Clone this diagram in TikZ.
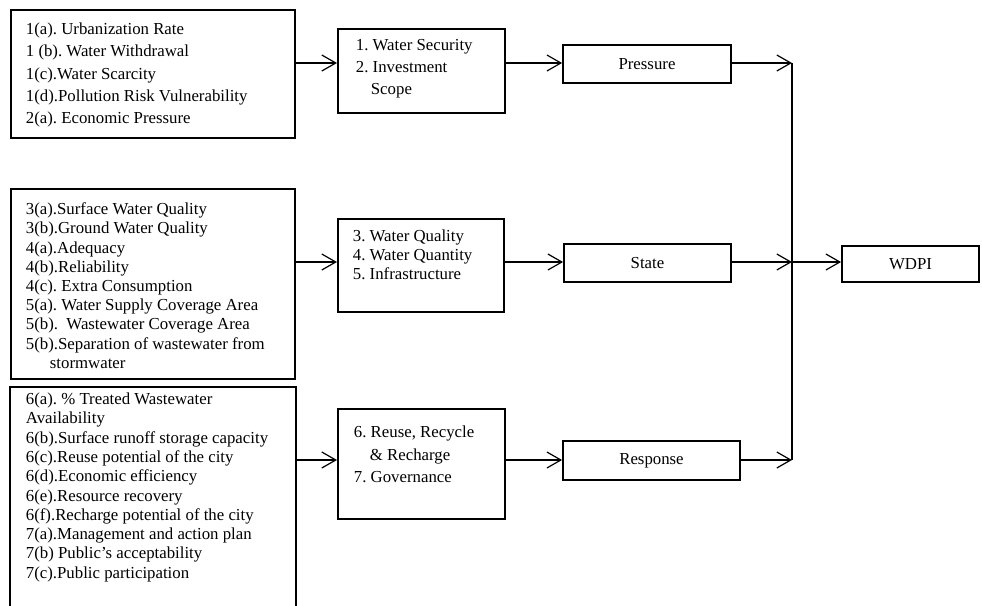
\documentclass[tikz,border=0pt]{standalone}
\usepackage{fontspec}
\usepackage{tikz}
\usetikzlibrary{arrows.meta}
\setmainfont{Liberation Serif}
\newcommand{\boxlist}[3]{\parbox[c][#2][t]{#1}{\raggedright\frenchspacing #3}}

\begin{document}
\begin{tikzpicture}[x=1pt, y=-1pt,
    box/.style={draw, line width=1.8pt, inner sep=0pt},
    listbox/.style={box, anchor=north west, inner xsep=15pt},
    stagebox/.style={box, font=\fontsize{16.8}{19}\selectfont},
    link/.style={line width=1.2pt},
    arr/.style={link, -{Straight Barb[length=14pt, width=16pt]}}]
      \useasboundingbox (0,0) rectangle (982,605);
      \node[listbox, inner ysep=13pt, font=\fontsize{16.8}{22.3}\selectfont] (A1) at (10,9) {\boxlist{254pt}{102pt}{%
        1(a). Urbanization Rate\\
        1 (b). Water Withdrawal\\
        1(c).Water Scarcity\\
        1(d).Pollution Risk Vulnerability\\
        2(a). Economic Pressure}};
      \node[listbox, inner ysep=14pt, font=\fontsize{16.8}{19.2}\selectfont] (A2) at (10,188) {\boxlist{254pt}{162pt}{%
        3(a).Surface Water Quality\\
        3(b).Ground Water Quality\\
        4(a).Adequacy\\
        4(b).Reliability\\
        4(c). Extra Consumption\\
        5(a). Water Supply Coverage Area\\
        5(b).~ Wastewater Coverage Area\\
        5(b).Separation of wastewater from\\
        \hspace*{24pt}stormwater}};
      \node[listbox, draw=none, inner ysep=5pt, font=\fontsize{16.8}{19.3}\selectfont] (A3) at (10,387) {\boxlist{254pt}{208pt}{%
        6(a). \% Treated Wastewater\\
        Availability\\
        6(b).Surface runoff storage capacity\\
        6(c).Reuse potential of the city\\
        6(d).Economic efficiency\\
        6(e).Resource recovery\\
        6(f).Recharge potential of the city\\
        7(a).Management and action plan\\
        7(b) Public’s acceptability\\
        7(c).Public participation}};
      \draw[line width=1.8pt] (A3.south west) -- (A3.north west) -- (A3.north east) -- (A3.south east);
      \node[listbox, inner xsep=18pt, inner ysep=10pt, font=\fontsize{16.8}{22}\selectfont] (B1) at (337,28) {\boxlist{131pt}{64pt}{%
        1. Water Security\\
        2. Investment\\
        \hspace*{15pt}Scope}};
      \node[listbox, inner ysep=11pt, font=\fontsize{16.8}{19}\selectfont] (B2) at (337,218) {\boxlist{136pt}{71pt}{%
        3. Water Quality\\
        4. Water Quantity\\
        5. Infrastructure}};
      \node[listbox, inner xsep=16pt, inner ysep=17pt, font=\fontsize{16.8}{22.5}\selectfont] (B3) at (337,408) {\boxlist{135pt}{76pt}{%
        6. Reuse, Recycle\\
        \hspace*{16pt}\& Recharge\\
        7. Governance}};
      \node[stagebox, minimum width=168pt, minimum height=38pt] (P) at (647,64) {Pressure};
      \node[stagebox, minimum width=167pt, minimum height=38pt] (S) at (647.5,263) {State};
      \node[stagebox, minimum width=177pt, minimum height=39pt] (R) at (651.5,460.5) {Response};
      \node[stagebox, minimum width=137pt, minimum height=36pt] (W) at (910.5,264) {WDPI};
      \coordinate (J1) at (792,63);
      \coordinate (J2) at (792,262);
      \coordinate (J3) at (792,460);
      \draw[arr] (A1.east |- J1) -- (B1.west |- J1);
      \draw[arr] (A2.east |- J2) -- (B2.west |- J2);
      \draw[arr] (A3.east |- J3) -- (B3.west |- J3);
      \draw[arr] (B1.east |- J1) -- (P.west |- J1);
      \draw[arr] (B2.east |- J2) -- (S.west |- J2);
      \draw[arr] (B3.east |- J3) -- (R.west |- J3);
      \draw[arr] (P.east |- J1) -- (J1);
      \draw[arr] (S.east |- J2) -- (J2);
      \draw[arr] (R.east |- J3) -- (J3);
      \draw[link] (J1) -- (J3);
      \draw[arr] (J2) -- (W.west |- J2);
\end{tikzpicture}
\end{document}
